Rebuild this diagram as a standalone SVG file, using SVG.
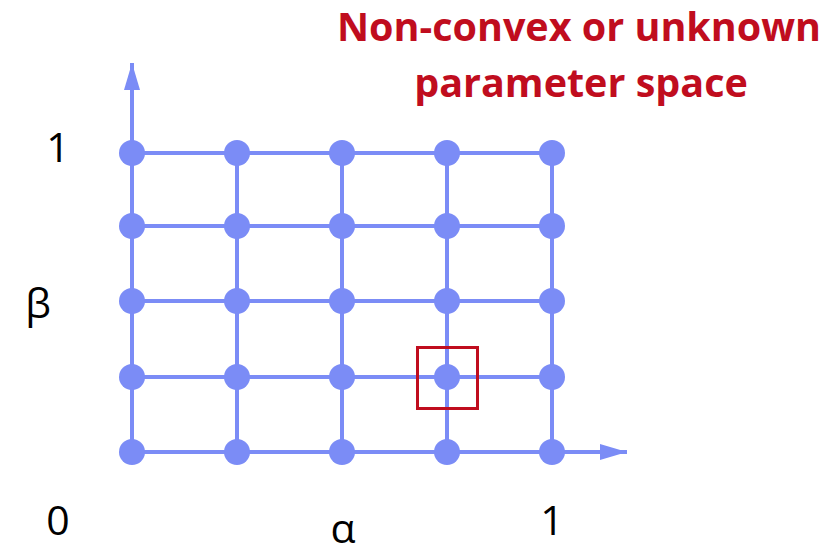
<svg xmlns="http://www.w3.org/2000/svg" width="835" height="554" viewBox="0 0 835 554">
<defs>
<style>
.ln{stroke:#7b8cf6;stroke-width:4;fill:none}
.nd{fill:#7b8cf6}
.lbl{font-family:"Open Sans","Liberation Sans",sans-serif;font-size:41px;fill:#000}
.ttl{font-family:"Open Sans","Liberation Sans",sans-serif;font-size:39.5px;font-weight:bold;fill:#c00d1e;text-anchor:middle}
</style>
<marker id="ah" markerWidth="28" markerHeight="18" refX="27" refY="8" orient="auto" markerUnits="userSpaceOnUse"><path d="M0,0 L27,8 L0,16 Z" fill="#7b8cf6"/></marker>
</defs>
<rect width="835" height="554" fill="#fff"/>
<g id="connectors">
<line class="ln" x1="132" y1="452" x2="132" y2="63" marker-end="url(#ah)"/>
<line class="ln" x1="132" y1="452" x2="627" y2="452" marker-end="url(#ah)"/>
<line class="ln" x1="132" y1="153" x2="552" y2="153"/>
<line class="ln" x1="132" y1="226" x2="552" y2="226"/>
<line class="ln" x1="132" y1="301" x2="552" y2="301"/>
<line class="ln" x1="132" y1="377" x2="552" y2="377"/>
<line class="ln" x1="237" y1="153" x2="237" y2="452"/>
<line class="ln" x1="342" y1="153" x2="342" y2="452"/>
<line class="ln" x1="447" y1="153" x2="447" y2="452"/>
<line class="ln" x1="552" y1="153" x2="552" y2="452"/>
</g>
<g id="nodes">
<g id="r1"><circle class="nd" cx="132" cy="153" r="13"/><circle class="nd" cx="237" cy="153" r="13"/><circle class="nd" cx="342" cy="153" r="13"/><circle class="nd" cx="447" cy="153" r="13"/><circle class="nd" cx="552" cy="153" r="13"/></g>
<g id="r2"><circle class="nd" cx="132" cy="226" r="13"/><circle class="nd" cx="237" cy="226" r="13"/><circle class="nd" cx="342" cy="226" r="13"/><circle class="nd" cx="447" cy="226" r="13"/><circle class="nd" cx="552" cy="226" r="13"/></g>
<g id="r3"><circle class="nd" cx="132" cy="301" r="13"/><circle class="nd" cx="237" cy="301" r="13"/><circle class="nd" cx="342" cy="301" r="13"/><circle class="nd" cx="447" cy="301" r="13"/><circle class="nd" cx="552" cy="301" r="13"/></g>
<g id="r4"><circle class="nd" cx="132" cy="377" r="13"/><circle class="nd" cx="237" cy="377" r="13"/><circle class="nd" cx="342" cy="377" r="13"/><circle class="nd" cx="447" cy="377" r="13"/><circle class="nd" cx="552" cy="377" r="13"/></g>
<g id="r5"><circle class="nd" cx="132" cy="452" r="13"/><circle class="nd" cx="237" cy="452" r="13"/><circle class="nd" cx="342" cy="452" r="13"/><circle class="nd" cx="447" cy="452" r="13"/><circle class="nd" cx="552" cy="452" r="13"/></g>
</g>
<g id="highlight"><rect x="417.5" y="347.5" width="60" height="61" fill="none" stroke="#c00d1e" stroke-width="3"/></g>
<g id="labels">
<text class="lbl" x="58" y="162" text-anchor="middle">1</text>
<text class="lbl" x="38" y="318" text-anchor="middle">β</text>
<text class="lbl" x="58" y="535" text-anchor="middle">0</text>
<text class="lbl" x="343" y="543" text-anchor="middle">α</text>
<text class="lbl" x="552" y="535" text-anchor="middle">1</text>
</g>
<g id="title">
<text class="ttl" x="579" y="41">Non-convex or unknown</text>
<text class="ttl" x="581" y="97">parameter space</text>
</g>
</svg>
